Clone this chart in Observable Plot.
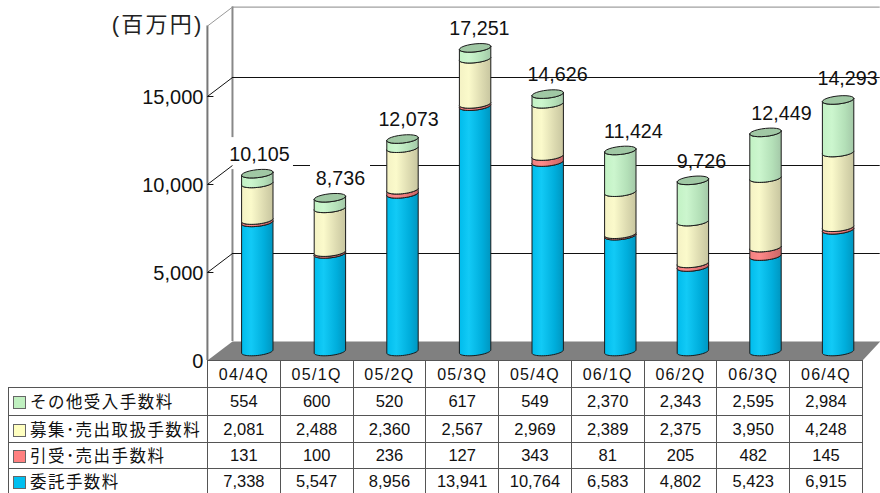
<!DOCTYPE html>
<html lang="ja">
<head>
<meta charset="utf-8">
<script src="https://cdn.jsdelivr.net/npm/d3@7"></script>
<script src="https://cdn.jsdelivr.net/npm/@observablehq/plot@0.6"></script>
<style>
html,body{margin:0;padding:0;background:#fff;overflow:hidden;width:880px;height:493px}
#chart svg{display:block;background:transparent}
#tbl{position:absolute;left:8px;top:360px;border-collapse:collapse;table-layout:fixed;width:854px;
 font-family:"Liberation Sans","Noto Sans CJK JP",sans-serif;color:#111}
#tbl td{border:1px solid #555;padding:0;text-align:center;font-size:16.5px;line-height:1;overflow:hidden;white-space:nowrap}
#tbl td.blank{border:0;border-bottom:1px solid #555;border-right:1px solid #555}
#tbl tr.head td{letter-spacing:1.3px;font-size:16px;padding-top:2px}
#tbl td.name{text-align:left;font-family:"Noto Sans CJK JP",sans-serif;font-size:16.5px;letter-spacing:1.45px}
#tbl .sw{display:inline-block;width:11px;height:11px;border:1px solid #666;margin:0 4px 0 4px;vertical-align:-1px}
</style>
</head>
<body>
<div id="chart"></div>
<table id="tbl"></table>
<script>
// ---- data ----
const quarters = ["04/4Q","05/1Q","05/2Q","05/3Q","05/4Q","06/1Q","06/2Q","06/3Q","06/4Q"];
const seriesNames = ["その他受入手数料","募集･売出取扱手数料","引受･売出手数料","委託手数料"];
const other     = [554,600,520,617,549,2370,2343,2595,2984];
const offering  = [2081,2488,2360,2567,2969,2389,2375,3950,4248];
const underwrite= [131,100,236,127,343,81,205,482,145];
const brokerage = [7338,5547,8956,13941,10764,6583,4802,5423,6915];
const totals    = [10105,8736,12073,17251,14626,11424,9726,12449,14293];
const yTicks    = [0,5000,10000,15000];
const unitLabel = "(百万円)";

// ---- styling / layout (separate from the values) ----
const swatch = ["#c0f0c0","#ffffc0","#ff8080","#00bff0"];
const gradients = [
  ["#c2f2c4","#ccf6ce","#b4e0b8","#a4c8a8"],
  ["#f4f2c4","#fbfacb","#dcdab0","#c8c6a0"],
  ["#f08080","#ff8a8a","#e07272","#c86868"],
  ["#00bcec","#12caf6","#00aedc","#0096c0"]
];
const capFill = "#a0c8a4";
const pxX = 72.6, pxY = 0.0176;         // pixels per index / per value
const halfW = 15.7/pxX, rimV = 4/pxY, tiltV = 1.6/pxY;
const frontX = -0.687, backX = -0.342, rightFront = 8.337, rightBack = 8.58;
const frontDrop = -511, backRise = 568, wallTop = 19000;
// label nudges relative to the stack top [x in index units, y in value units]
const labelNudge = [[.03,1083],[.146,1080],[.083,1080],[.06,1080],[.135,1080],[.18,1080],[.118,1080],[.22,1080],[.13,1220]];
const boxed = [0,1];

const layers = [brokerage, underwrite, offering, other];   // bottom → top
const layerGrad = [3,2,1,0];

function arc(i, v, from, to){
  const pts=[]; const n=24;
  for(let k=0;k<=n;k++){
    const t = from+(to-from)*k/n;
    pts.push({x:i+halfW*Math.cos(t), y:v+rimV*Math.sin(t)+tiltV*Math.cos(t)});
  }
  return pts;
}
function segmentOutline(l){
  const out=[];
  quarters.forEach((q,i)=>{
    let base=0; for(let j=0;j<l;j++) base+=layers[j][i];
    const top=base+layers[l][i];
    const poly=[...arc(i,top,Math.PI,2*Math.PI),...arc(i,base,2*Math.PI,Math.PI)];
    poly.push(poly[0]);
    poly.forEach(p=>out.push({...p,id:q}));
  });
  return out;
}
function caps(){
  const out=[];
  quarters.forEach((q,i)=>{
    const top=layers.reduce((s,a)=>s+a[i],0);
    arc(i,top,0,2*Math.PI).forEach(p=>out.push({...p,id:q}));
  });
  return out;
}
const defs = () => {
  const d = d3.create("svg:defs");
  gradients.forEach((g,idx)=>{
    const lg=d.append("linearGradient").attr("id","cyl"+idx).attr("x1",0).attr("x2",1).attr("y1",0).attr("y2",0);
    [0,.3,.72,1].forEach((o,k)=>lg.append("stop").attr("offset",o).attr("stop-color",g[k]));
  });
  return d.node();
};
const labelData = totals.map((t,i)=>({
  t, i, x:i+labelNudge[i][0], y:(layers.reduce((s,a)=>s+a[i],0))+labelNudge[i][1]
}));
const fmt = d3.format(",");
const sans = '"Liberation Sans","Noto Sans CJK JP",sans-serif';

const plot = Plot.plot({
  width:880, height:372, margin:0,
  style:{background:"transparent"},
  x:{domain:[-256.8/pxX,(880-256.8)/pxX],range:[0,880],axis:null},
  y:{domain:[-21/pxY,351/pxY],range:[372,0],axis:null},
  marks:[
    defs,
    // floor
    Plot.line([[frontX,frontDrop],[backX,backRise],[rightBack,backRise],[rightFront,frontDrop],[frontX,frontDrop]],
      {x:d=>d[0],y:d=>d[1],fill:"#808080",stroke:"none"}),
    // walls
    Plot.ruleX([backX],{y1:backRise,y2:wallTop+backRise,stroke:"#888",strokeWidth:2}),
    Plot.ruleY([wallTop+backRise],{x1:backX,x2:rightBack,stroke:"#888",strokeWidth:1}),
    // grid on the back wall
    Plot.ruleY(yTicks.slice(1),{y:d=>d+backRise,x1:backX,x2:rightBack,stroke:"#111",strokeWidth:1}),
    // white boxes behind first labels
    Plot.rect(boxed.map(i=>labelData[i]),{
      x1:d=>d.x-(fmt(d.t).length*4+10)/pxX, x2:d=>d.x+(fmt(d.t).length*4+10)/pxX,
      y1:d=>d.y-15/pxY, y2:d=>d.y+17/pxY, fill:"#fff"}),
    // front axis
    Plot.ruleX([frontX],{y1:frontDrop,y2:wallTop+frontDrop,stroke:"#777",strokeWidth:2}),
    Plot.link([wallTop],{x1:frontX,x2:backX,y1:d=>d+frontDrop,y2:d=>d+backRise,stroke:"#999",strokeWidth:1}),
    Plot.link(yTicks.slice(1),{x1:frontX,x2:backX,y1:d=>d+frontDrop,y2:d=>d+backRise,stroke:"#111",strokeWidth:1}),
    Plot.link(yTicks.slice(1),{x1:frontX,x2:frontX+6/pxX,y1:d=>d+frontDrop,y2:d=>d+frontDrop,stroke:"#111",strokeWidth:1}),
    Plot.text(yTicks,{x:frontX,y:d=>d+frontDrop,text:d=>fmt(d),dx:-4,dy:1,textAnchor:"end",fontSize:20,fontFamily:sans,fill:"#111"}),
    Plot.text([unitLabel],{x:frontX,y:wallTop+frontDrop,text:d=>d,dx:-4,dy:-1,textAnchor:"end",fontSize:22,fontFamily:sans,fill:"#222"}),
    // cylinders
    ...layers.map((_,l)=>Plot.line(segmentOutline(l),{x:"x",y:"y",z:"id",fill:`url(#cyl${layerGrad[l]})`,stroke:"#1a1a1a",strokeWidth:1})),
    Plot.line(caps(),{x:"x",y:"y",z:"id",fill:capFill,stroke:"#1a1a1a",strokeWidth:1}),
    // totals
    Plot.text(labelData,{x:"x",y:"y",text:d=>fmt(d.t),fontSize:19.7,fontFamily:sans,fill:"#111"})
  ]
});
plot.querySelectorAll("text").forEach(t=>{ if(t.textContent===unitLabel) t.style.letterSpacing="2.2px"; });
document.getElementById("chart").append(plot);

// ---- table ----
const tb = d3.select("#tbl");
const cg = tb.append("colgroup");
cg.append("col").style("width","199px");
quarters.forEach(()=>cg.append("col").style("width","72.78px"));
const rowH = [27,28,27,26,26];
const h = tb.append("tr").attr("class","head").style("height",rowH[0]+"px");
h.append("td").attr("class","blank");
quarters.forEach(q=>h.append("td").text(q));
[other,offering,underwrite,brokerage].forEach((arr,r)=>{
  const tr=tb.append("tr").style("height",rowH[r+1]+"px");
  const td=tr.append("td").attr("class","name");
  td.append("span").attr("class","sw").style("background",swatch[r]);
  td.append("span").text(seriesNames[r]);
  arr.forEach(v=>tr.append("td").text(fmt(v)));
});
</script>
</body>
</html>
